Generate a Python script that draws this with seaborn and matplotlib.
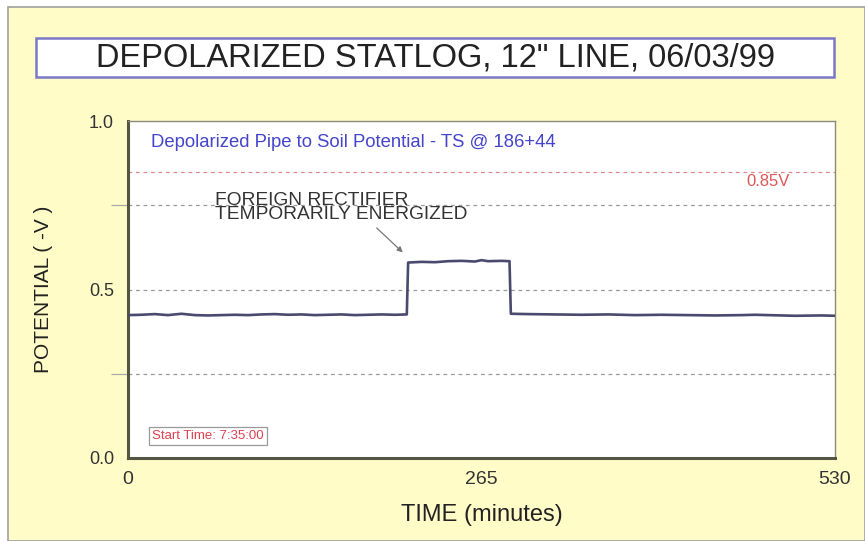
import matplotlib
matplotlib.use("Agg")
import matplotlib.pyplot as plt
from matplotlib.patches import Rectangle
import seaborn as sns
import pandas as pd

# ---- data ----
time_min = [0, 10, 20, 30, 40, 50, 60, 70, 80, 90, 100, 110, 120, 130, 140, 150,
            160, 170, 180, 190, 200, 209, 210, 220, 230, 240, 250, 260, 265, 270,
            280, 286, 287, 300, 320, 340, 360, 380, 400, 420, 440, 460, 470, 480,
            500, 520, 530]
potential = [0.424, 0.425, 0.427, 0.424, 0.428, 0.424, 0.423, 0.424, 0.425, 0.424,
             0.426, 0.427, 0.425, 0.426, 0.424, 0.425, 0.426, 0.424, 0.425, 0.426,
             0.425, 0.426, 0.580, 0.582, 0.581, 0.584, 0.585, 0.583, 0.587, 0.584,
             0.585, 0.584, 0.428, 0.427, 0.426, 0.425, 0.426, 0.424, 0.425, 0.424,
             0.423, 0.424, 0.425, 0.424, 0.422, 0.423, 0.422]
x_ticks = [0, 265, 530]
y_ticks = [0.0, 0.5, 1.0]
grid_levels = [0.25, 0.5, 0.75]
criterion = 0.85

df = pd.DataFrame({"time": time_min, "potential": potential})

sns.set_style("white")
plt.rcParams["font.family"] = ["Liberation Sans", "DejaVu Sans"]

W, H = 865, 541
fig = plt.figure(figsize=(W / 100, H / 100), dpi=100)
fig.patch.set_facecolor("white")

# yellow panel background
fig.patches.append(Rectangle((8 / W, 0), 1 - 8 / W, 1 - 7 / H, transform=fig.transFigure,
                             facecolor="#fffcc8", edgecolor="#a0a0a0", linewidth=1.2,
                             zorder=-10))

# title box
fig.patches.append(Rectangle((36 / W, 1 - 77 / H), (834 - 36) / W, 39 / H,
                             transform=fig.transFigure, facecolor="white",
                             edgecolor="#7b78c8", linewidth=1.8, zorder=-5))
fig.text(435 / W, 1 - 58 / H, 'DEPOLARIZED STATLOG, 12" LINE, 06/03/99',
         ha="center", va="center", fontsize=23.5, color="#222222", zorder=2)

ax = fig.add_axes([128 / W, 1 - 458 / H, (835 - 128) / W, (458 - 121) / H])
ax.set_facecolor("white")

for g in grid_levels:
    ax.axhline(g, color="#9a9a9a", linestyle=(0, (3, 3)), linewidth=0.9, zorder=1)
ax.axhline(criterion, color="#e08a8a", linestyle=(0, (3, 3)), linewidth=0.9, zorder=1)

sns.lineplot(data=df, x="time", y="potential", ax=ax, color="#4a4a6e",
             linewidth=1.9, zorder=3)

ax.set_xlim(0, 530)
ax.set_ylim(0, 1.0)
ax.set_xticks(x_ticks)
ax.set_xticklabels([str(t) for t in x_ticks])
ax.set_yticks(y_ticks)
ax.set_yticklabels([f"{t:.1f}" for t in y_ticks])
ax.set_yticks([0.25, 0.75], minor=True)
ax.tick_params(axis="both", labelsize=13, colors="#333333", length=8, width=0.9,
               direction="out")
ax.tick_params(axis="y", which="major", pad=2)
ax.tick_params(axis="y", which="minor", length=12, width=0.9, color="#aaaaaa", left=True)
ax.tick_params(axis="x", length=3, pad=6, labelsize=14)

for side in ["left", "bottom"]:
    ax.spines[side].set_color("#555544")
    ax.spines[side].set_linewidth(2.2)
for side in ["top", "right"]:
    ax.spines[side].set_color("#8a8a7a")
    ax.spines[side].set_linewidth(1.0)

ax.set_xlabel("TIME (minutes)", fontsize=17, color="#222222", labelpad=12)
ax.set_ylabel("POTENTIAL ( -V )", fontsize=15, color="#222222", labelpad=26)

ax.text(17, 0.935, "Depolarized Pipe to Soil Potential - TS @ 186+44",
        fontsize=13.3, color="#4444cc", ha="left", va="center")
ax.text(496, 0.82, "0.85V", fontsize=12, color="#e05555", ha="right", va="center")
ax.text(18, 0.065, "Start Time: 7:35:00", fontsize=9.5, color="#e04050",
        ha="left", va="center",
        bbox=dict(boxstyle="square,pad=0.25", facecolor="white", edgecolor="#9a9a9a",
                  linewidth=0.9))

ax.annotate("FOREIGN RECTIFIER\nTEMPORARILY ENERGIZED", xy=(206, 0.61), xytext=(65, 0.788),
            fontsize=13.8, color="#333333", ha="left", va="top", linespacing=0.72,
            arrowprops=dict(arrowstyle="-|>", color="#777777", lw=0.9,
                            shrinkA=2, shrinkB=0, mutation_scale=8,
                            relpos=(0.62, 0.0)))

fig.savefig("out.png", dpi=100, facecolor=fig.get_facecolor())
